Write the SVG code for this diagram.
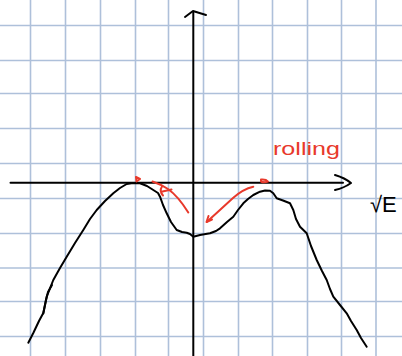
<svg xmlns="http://www.w3.org/2000/svg" width="402" height="356" viewBox="0 0 402 356">
<style>
.grid line{stroke:#aec0da;stroke-width:1.6}
.ink{fill:none;stroke:#000;stroke-width:2;stroke-linecap:round;stroke-linejoin:round}
.red{fill:none;stroke:#e8392b;stroke-width:2;stroke-linecap:round;stroke-linejoin:round}
.rt{fill:#e8392b;font-family:"Liberation Sans",sans-serif;font-size:19px}
.bt{fill:#000;font-family:"Liberation Sans",sans-serif;font-size:22px}
</style>
<rect width="402" height="356" fill="#fff"/>
<g class="grid" id="grid">
<line x1="30.5" y1="0" x2="30.5" y2="356"/>
<line x1="65.5" y1="0" x2="65.5" y2="356"/>
<line x1="100.5" y1="0" x2="100.5" y2="356"/>
<line x1="135.5" y1="0" x2="135.5" y2="356"/>
<line x1="168.5" y1="0" x2="168.5" y2="356"/>
<line x1="203.5" y1="0" x2="203.5" y2="356"/>
<line x1="238.5" y1="0" x2="238.5" y2="356"/>
<line x1="272.5" y1="0" x2="272.5" y2="356"/>
<line x1="307.5" y1="0" x2="307.5" y2="356"/>
<line x1="341.5" y1="0" x2="341.5" y2="356"/>
<line x1="376" y1="0" x2="376" y2="356"/>
<line x1="0" y1="25.5" x2="402" y2="25.5"/>
<line x1="0" y1="60.5" x2="402" y2="60.5"/>
<line x1="0" y1="93.5" x2="402" y2="93.5"/>
<line x1="0" y1="128.5" x2="402" y2="128.5"/>
<line x1="0" y1="163.5" x2="402" y2="163.5"/>
<line x1="0" y1="198.5" x2="402" y2="198.5"/>
<line x1="0" y1="233.5" x2="402" y2="233.5"/>
<line x1="0" y1="268" x2="402" y2="268"/>
<line x1="0" y1="301.5" x2="402" y2="301.5"/>
<line x1="0" y1="336.5" x2="402" y2="336.5"/>
</g>
<g id="axes">
<path class="ink" d="M193.3 356 L193.3 12"/>
<path class="ink" d="M185 17 L193 11 L206 15"/>
<path class="ink" d="M10.5 182.7 L343 182.7"/>
<path class="ink" d="M335 175 Q345 178 351 183 Q344 188 335 190"/>
</g>
<g id="curve">
<path class="ink" d="M28.3 342.7 L33.3 333 L39 321 L43.3 313 L46.7 296.7 L53.3 280 L60 268 L66.7 256.7 L75 243 L83.3 230 L90 219 L96.7 210 L105 201 L113.3 193.3 L120 188 L126.7 184 L133 183 L140 183.3 L147 186 L153.3 190 L158 193 L160 196.7 L163 205 L166.7 213.3 L171 222 L176.7 230 L182 232 L186.7 232.7 L190 234 L193.3 236.7 L200 235 L210 233.3 L216 231 L220 228.3 L227 222 L233.3 216.7 L238 210 L243.3 203.3 L248 199 L253.3 195 L260 191.7 L265 190.5 L270 190.7 L273.3 193.3 L276.7 198.3 L283 200.5 L290 203.3 L293.3 210 L296 219 L300 226.7 L306.7 233.3 L311 246 L316.7 260 L322 271 L326.7 280 L330 289 L333.3 296.7 L340 305 L346.7 313.3 L351 321 L356.7 330 L361 338 L366.7 346.7"/>
<path class="ink" d="M43.3 313.5 L46 300 L48 292 L52 285"/>
</g>
<g id="arrows">
<path class="red" d="M188.3 212.5 Q178 196 168 189 Q160 184 152.5 181.5"/>
<path class="red" d="M162 186.5 Q159 191 163 195.5 M162.5 191.5 L171.5 189.5"/>
<path class="red" d="M253.3 186.7 Q243 189 233 198 Q220 210 207 221.7"/>
<path class="red" d="M208.5 216 L206.5 222 L212 219.5"/>
<path class="red" d="M136 177 L140 179 L136.5 181.5 Z" fill="#e8392b"/>
<path class="red" d="M261 179.5 Q266 179 268 181.5 Q264 183 261 181.5 Z"/>
</g>
<g id="labels">
<text class="rt" x="273" y="155" textLength="67" lengthAdjust="spacingAndGlyphs">rolling</text>
<text class="bt" x="370" y="212">√E</text>
</g>
</svg>
